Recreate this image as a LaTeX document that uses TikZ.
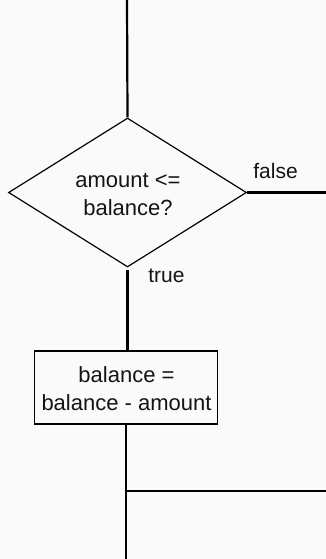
\documentclass[tikz,border=0pt]{standalone}
\usepackage{fontspec}
\setmainfont{Liberation Sans}
\usetikzlibrary{shapes.geometric}
\definecolor{bgcol}{RGB}{250,250,250}
\definecolor{inkcol}{RGB}{20,20,20}
\begin{document}
\begin{tikzpicture}[x=1pt,y=-1pt,
  flowline/.style={draw=black,line width=2.2pt},
  thinline/.style={draw=black,line width=1.2pt},
  txt/.style={font=\fontsize{22}{28}\selectfont,text=inkcol,inner sep=0pt},
  lbl/.style={font=\fontsize{21}{26}\selectfont,text=inkcol,inner sep=0pt,anchor=base}]
\fill[bgcol] (0,0) rectangle (326,559);
\useasboundingbox (0,0) rectangle (326,559);
% decision
\node[diamond,thinline,fill=bgcol,minimum width=238pt,minimum height=149pt,inner sep=0pt] (dec) at (127.5,192.5) {};
\node[txt,align=center,anchor=base] (dectxt) at (128,215) {amount <=\\balance?};
% process box
\node[rectangle,thinline,fill=bgcol,minimum width=183pt,minimum height=73pt,inner sep=0pt] (box) at (126,387.5) {};
\node[txt,align=center,anchor=base] (boxtxt) at (126.5,410) {balance =\\balance - amount};
% coordinates
\coordinate (top) at (127,0);
\coordinate (falseend) at (326,192.5);
\coordinate (bot) at (126,559);
\coordinate (join) at (126,491);
\coordinate (joinend) at (326,491);
% connectors
\draw[flowline] (top) -- (dec.north);
\draw[flowline] (dec.east) -- (falseend);
\draw[flowline] (dec.south) ++(0,2) -- (box.north -| dec.south);
\draw[flowline] (box.south) -- (bot);
\draw[flowline] (join) -- (joinend);
% labels
\node[lbl] (flbl) at (275.5,178) {false};
\node[lbl] (tlbl) at (166.5,282) {true};
\end{tikzpicture}
\end{document}
